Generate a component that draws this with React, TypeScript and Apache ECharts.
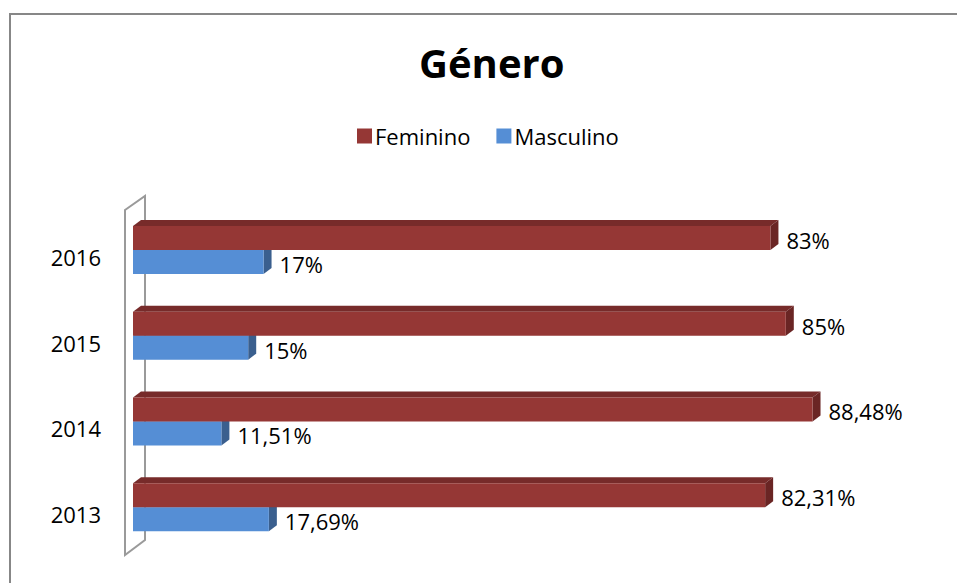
import React, { useEffect, useRef } from "react";
import * as echarts from "echarts";

const categories = ["2013", "2014", "2015", "2016"];
const feminino = [82.31, 88.48, 85, 83];
const masculino = [17.69, 11.51, 15, 17];
const seriesNames = ["Feminino", "Masculino"];

const FONT = '"Open Sans", "Liberation Sans", sans-serif';
const GRID = { left: 133, top: 207, width: 768, height: 343 };

const fmt = (v: number) => String(v).replace(".", ",") + "%";

function makeRender(upper: boolean, front: string, top: string, side: string) {
  return (params: any, api: any) => {
    const v = api.value(0);
    const cat = api.value(1);
    const p0 = api.coord([0, cat]);
    const p1 = api.coord([v, cat]);
    const h = 24;
    const dx = 8;
    const dy = 6;
    const x0 = p0[0];
    const x1 = p1[0];
    const y0 = upper ? p0[1] - h : p0[1];
    const y1 = upper ? p0[1] : p0[1] + h;
    const children: any[] = [
      {
        type: "polygon",
        shape: { points: [[x0, y0], [x0 + dx, y0 - dy], [x1 + dx, y0 - dy], [x1, y0]] },
        style: { fill: top },
      },
      {
        type: "polygon",
        shape: { points: [[x1, y0], [x1 + dx, y0 - dy], [x1 + dx, y1 - dy], [x1, y1]] },
        style: { fill: side },
      },
      {
        type: "rect",
        shape: { x: x0, y: y0, width: x1 - x0, height: y1 - y0 },
        style: { fill: front },
      },
      {
        type: "text",
        style: {
          text: fmt(v),
          x: x1 + 16,
          y: (y0 + y1) / 2 + 2,
          fill: "#000",
          fontSize: 22,
          fontFamily: FONT,
          verticalAlign: "middle",
          align: "left",
        },
      },
    ];
    if (!upper) {
      children.push({
        type: "text",
        style: {
          text: categories[cat],
          x: x0 - 32,
          y: p0[1] + 7,
          fill: "#000",
          fontSize: 22,
          fontFamily: FONT,
          verticalAlign: "middle",
          align: "right",
        },
      });
    }
    return { type: "group", children };
  };
}

export default function App() {
  const ref = useRef<HTMLDivElement>(null);
  useEffect(() => {
    if (!ref.current) return;
    const chart = echarts.init(ref.current, undefined, { renderer: "svg" });
    const gl = GRID.left;
    const gt = GRID.top;
    const gb = GRID.top + GRID.height;
    chart.setOption({
      animation: false,
      backgroundColor: "#fff",
      title: {
        text: "Género",
        left: 414,
        top: 37,
        textStyle: { fontSize: 40, fontWeight: "bold", fontFamily: FONT, color: "#000" },
      },
      legend: {
        data: [
          { name: seriesNames[0], itemStyle: { color: "#953735" } },
          { name: seriesNames[1], itemStyle: { color: "#558ED5" } },
        ],
        left: 352,
        top: 120,
        icon: "rect",
        itemWidth: 15,
        itemHeight: 15,
        itemGap: 26,
        textStyle: { fontSize: 22, fontFamily: FONT, color: "#000", padding: [0, 0, 0, -2] },
      },
      grid: { ...GRID, containLabel: false },
      xAxis: { type: "value", min: 0, max: 100, show: false },
      yAxis: {
        type: "category",
        data: categories,
        axisLine: { show: false },
        axisTick: { show: false },
        splitLine: { show: false },
        axisLabel: { show: false },
      },
      graphic: [
        {
          type: "rect",
          shape: { x: 10, y: 14, width: 1000, height: 700 },
          style: { fill: "none", stroke: "#878787", lineWidth: 2 },
          z: 0,
        },
        {
          type: "polygon",
          shape: {
            points: [
              [gl - 8, gt + 3],
              [gl + 12, gt - 11],
              [gl + 12, gb - 10],
              [gl - 8, gb + 5],
            ],
          },
          style: { fill: "none", stroke: "#9a9a9a", lineWidth: 2 },
          z: 1,
        },
      ],
      series: [
        {
          name: seriesNames[1],
          type: "custom",
          renderItem: makeRender(false, "#558ED5", "#4a7bbf", "#3A5F8E"),
          encode: { x: 0, y: 1 },
          data: masculino.map((v, i) => [v, i]),
          itemStyle: { color: "#558ED5" },
          z: 3,
        },
        {
          name: seriesNames[0],
          type: "custom",
          renderItem: makeRender(true, "#953735", "#772B2A", "#6A2524"),
          encode: { x: 0, y: 1 },
          data: feminino.map((v, i) => [v, i]),
          itemStyle: { color: "#953735" },
          z: 4,
        },
      ],
    });
    return () => chart.dispose();
  }, []);
  return (
    <div
      ref={ref}
      style={{ position: "absolute", left: 0, top: 0, width: 957, height: 583 }}
    />
  );
}
